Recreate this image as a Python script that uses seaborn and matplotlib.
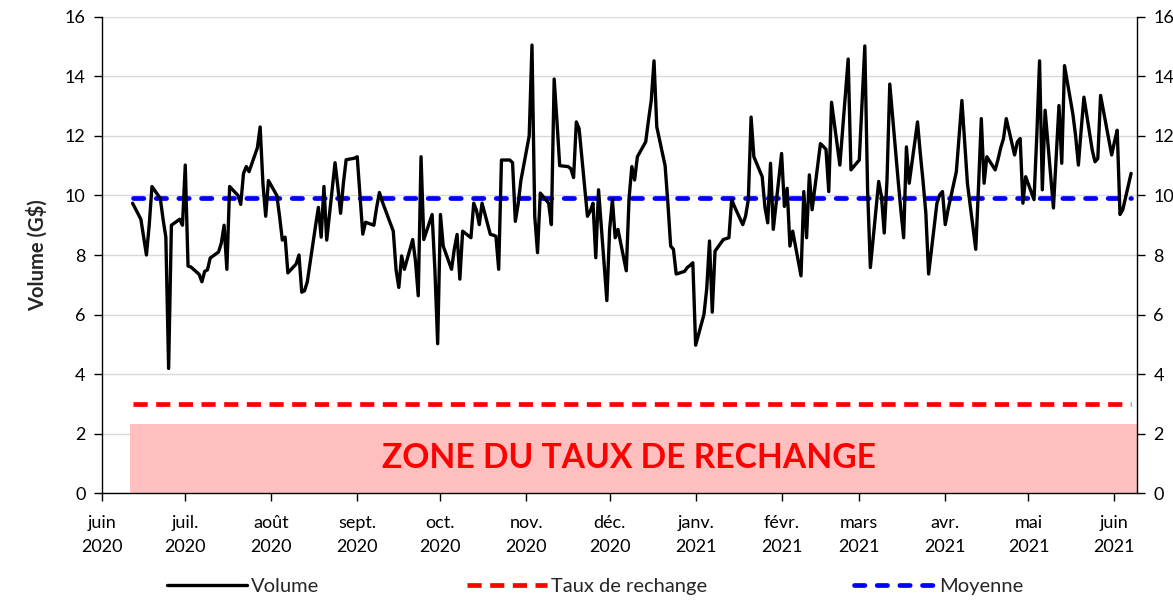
import pandas as pd
import matplotlib.pyplot as plt
from matplotlib.ticker import MultipleLocator
import seaborn as sns

# Daily volume (G$), business days from 2020-06-12
volume = [
    9.74, 9.2, 8.6, 8.0, 9.0, 10.3, 9.9, 9.2, 8.6, 4.19, 9.0, 9.2, 9.0, 11.02, 7.63, 7.6,
    7.35, 7.1, 7.45, 7.5, 7.9, 8.1, 8.4, 9.0, 7.52, 10.3, 10.0, 9.7, 10.74, 10.97, 10.8, 11.6,
    12.3, 10.4, 9.3, 10.5, 10.0, 9.3, 8.5, 8.6, 7.4, 7.7, 8.0, 6.75, 6.8, 7.1, 9.0, 9.6,
    8.6, 10.3, 8.5, 11.1, 10.3, 9.4, 10.4, 11.2, 11.25, 11.3, 10.0, 8.7, 9.1, 9.0, 9.6, 10.1,
    9.8, 9.55, 8.8, 7.5, 6.91, 7.97, 7.52, 8.52, 7.8, 6.63, 11.3, 8.52, 9.36, 7.5, 5.02, 9.36,
    8.3, 7.52, 8.2, 8.69, 7.19, 8.8, 8.58, 9.74, 9.5, 9.02, 9.74, 8.69, 8.67, 8.63, 7.52, 11.19,
    11.19, 11.1, 9.13, 9.7, 10.5, 12.0, 15.05, 9.3, 8.08, 10.08, 9.74, 9.02, 13.91, 12.5, 11.0, 10.97,
    10.9, 10.6, 12.47, 12.24, 9.3, 9.47, 9.74, 7.91, 10.19, 6.47, 8.86, 9.86, 8.58, 8.86, 7.47, 9.9,
    10.97, 10.52, 11.3, 11.8, 12.52, 13.19, 14.52, 12.3, 11.0, 9.74, 8.3, 8.19, 7.36, 7.45, 7.58, 7.65,
    7.74, 4.97, 6.0, 6.86, 8.47, 6.08, 8.13, 8.52, 8.55, 8.58, 9.86, 9.63, 9.02, 9.3, 9.86, 12.63,
    11.3, 10.63, 9.6, 9.08, 11.08, 8.86, 11.41, 9.63, 10.24, 8.3, 8.8, 7.3, 10.13, 8.58, 10.69, 9.52,
    11.74, 11.65, 11.55, 10.13, 13.13, 11.02, 12.2, 13.4, 14.58, 10.86, 11.19, 13.1, 15.02, 10.2, 7.58, 10.47,
    9.97, 8.74, 10.52, 13.74, 10.52, 9.5, 8.58, 11.63, 10.41, 12.47, 11.41, 10.47, 9.41, 7.36, 9.74, 10.02,
    10.13, 9.02, 9.52, 10.8, 12.0, 13.19, 11.8, 10.4, 8.19, 10.3, 12.58, 10.41, 11.3, 10.86, 11.2, 11.6, 11.91,
    12.58, 11.36, 11.8, 11.91, 9.74, 10.63, 9.86, 12.0, 14.52, 10.19, 12.86, 9.58, 11.3, 13.02, 11.08, 14.36,
    12.74, 12.0, 11.02, 12.2, 13.3, 11.52, 11.13, 11.24, 13.36, 12.86, 11.36, 11.8, 12.19, 9.36, 9.52, 10.74,
]
debut = '2020-06-12'
taux_rechange = 3.0
moyenne = 9.9
zone_haut = 2.33
zone_debut = '2020-06-11'
x_min, x_max = '2020-06-01', '2021-06-09'

mois = pd.date_range('2020-06-01', '2021-06-01', freq='MS')
mois_labels = ['juin\n2020', 'juil.\n2020', 'août\n2020', 'sept.\n2020', 'oct.\n2020',
               'nov.\n2020', 'déc.\n2020', 'janv.\n2021', 'févr.\n2021', 'mars\n2021',
               'avr.\n2021', 'mai\n2021', 'juin\n2021']

df = pd.DataFrame({'date': pd.bdate_range(debut, periods=len(volume)), 'Volume': volume})
df['Taux de rechange'] = taux_rechange
df['Moyenne'] = moyenne

sns.set_style('white')
plt.rcParams['font.family'] = ['Lato', 'DejaVu Sans']

fig = plt.figure(figsize=(11.73, 6), dpi=100)
ax = fig.add_axes([0.087, 0.178, 0.882, 0.794])

# pink zone
ax.fill_between([pd.Timestamp(zone_debut), pd.Timestamp(x_max)], 0, zone_haut,
                color='#ffbfbf', lw=0, zorder=1)
ax.text(pd.Timestamp('2020-12-08'), 1.18, 'ZONE DU TAUX DE RECHANGE', color='#ff0000',
        fontsize=24.2, fontweight='bold', ha='center', va='center', zorder=2)

sns.lineplot(data=df, x='date', y='Volume', color='black', lw=2.4, ax=ax,
             label='Volume', zorder=4)
sns.lineplot(data=df, x='date', y='Taux de rechange', color='#ff0000', lw=3.4, ax=ax,
             linestyle=(0, (3.0, 1.8)), label='Taux de rechange', zorder=3)
sns.lineplot(data=df, x='date', y='Moyenne', color='#0000ff', lw=3.4, ax=ax,
             linestyle=(0, (2.2, 2.6)), dash_capstyle='round', label='Moyenne', zorder=3)

ax.set_xlim(pd.Timestamp(x_min), pd.Timestamp(x_max))
ax.set_ylim(0, 16)
ax.yaxis.set_major_locator(MultipleLocator(2))
ax.set_xticks(mois)
ax.set_xticklabels(mois_labels)
for t in ax.get_xticklabels():
    t.set_linespacing(1.55)

ax.grid(axis='y', color='#d9d9d9', lw=1)
ax.grid(axis='x', visible=False)
ax.set_axisbelow(True)
for s in ['left', 'right', 'bottom']:
    ax.spines[s].set_color('black')
    ax.spines[s].set_linewidth(1)
ax.spines['top'].set_visible(False)

ax.tick_params(axis='both', direction='out', length=6, width=1, color='black',
               labelsize=13, labelcolor='black')
ax.tick_params(axis='y', left=True, right=True, labelleft=True, labelright=True, pad=6)
ax.tick_params(axis='x', bottom=True, pad=10)

ax.set_xlabel('')
ax.set_ylabel('Volume (G$)', fontsize=14.5, fontweight='bold', labelpad=12)

handles, labels = ax.get_legend_handles_labels()
ax.get_legend().remove()
fig.legend(handles, labels, loc='center', bbox_to_anchor=(595 / 1173, 0.022), ncol=3,
           frameon=False, fontsize=14.5, handlelength=4, handletextpad=0.2,
           columnspacing=7.3)

plt.savefig('out.png', dpi=100)
